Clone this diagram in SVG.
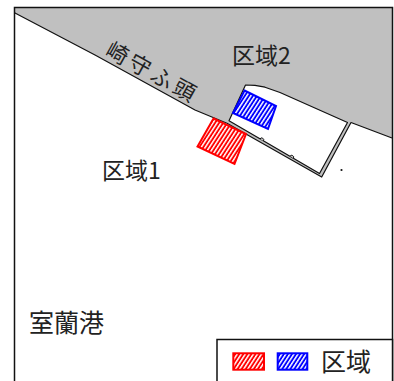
<svg xmlns="http://www.w3.org/2000/svg" width="394" height="381" viewBox="0 0 394 381">
<style>
.lbl{font-family:"Noto Sans CJK JP","Noto Sans",sans-serif;fill:#222;}
.line{fill:none;stroke:#111;stroke-width:1.2;stroke-linejoin:round;}
.red{fill:url(#hr);stroke:#ff0000;stroke-width:2;}
.blue{fill:url(#hb);stroke:#0000ff;stroke-width:2;}
</style>
<defs>
<pattern id="hr" patternUnits="userSpaceOnUse" width="3.4" height="3.4" patternTransform="rotate(33)">
<rect width="3.4" height="3.4" fill="#ff0000"/>
<rect x="0" y="0" width="1.5" height="3.4" fill="#ffffff"/>
</pattern>
<pattern id="hb" patternUnits="userSpaceOnUse" width="3.4" height="3.4" patternTransform="rotate(33)">
<rect width="3.4" height="3.4" fill="#0000ff"/>
<rect x="0" y="0" width="1.5" height="3.4" fill="#ffffff"/>
</pattern>
</defs>
<rect x="0" y="0" width="394" height="381" fill="#ffffff"/>
<g id="land">
<polygon points="14.5,12.7 95,55 195,110 227,123 321.7,177 351,122.5 392,138 392,7.5 14.5,7.5" fill="#c0c0c0"/>
</g>
<g id="pier">
<path d="M245.5,85 L255,85.4 L265,87.2 L280,92.5 L347.5,122.5 L319.5,173.5 L229,120.8 Z" fill="#ffffff" stroke="#111" stroke-width="1.2" stroke-linejoin="round"/>
<path d="M260,138.9 a1.9,1.9 0 0 1 3.4,2 M290,156.3 a1.9,1.9 0 0 1 3.4,2" fill="#c0c0c0" stroke="#111" stroke-width="1"/>
<circle cx="341.5" cy="170" r="1.1" fill="#111"/>
</g>
<g id="connectors">
<polyline class="line" points="14.5,12.7 95,55 195,110 227,123.3 321.7,177 351,122.5 392,138"/>
</g>
<g id="area1-box">
<polygon class="red" points="213.5,118.5 246,134 234.5,164 197.5,146.5"/>
</g>
<g id="area2-box">
<polygon class="blue" points="244.5,90.5 276,106 268,129 233,113"/>
</g>
<g id="labels">
<text class="lbl" x="104" y="54.7" font-size="22" letter-spacing="3.5" transform="rotate(29 104 54.7)">崎守ふ頭</text>
<text class="lbl" x="232" y="63.5" font-size="23">区域2</text>
<text class="lbl" x="102" y="179" font-size="23">区域1</text>
<text class="lbl" x="29" y="332" font-size="25">室蘭港</text>
</g>
<g id="frame">
<rect x="14.5" y="7.5" width="378" height="390" fill="none" stroke="#111" stroke-width="1.5"/>
</g>
<g id="legend">
<rect x="217" y="339.5" width="175.5" height="60" fill="#ffffff" stroke="#111" stroke-width="1.5"/>
<rect class="red" x="233.3" y="353.3" width="30.7" height="16.4"/>
<rect class="blue" x="277.7" y="353.3" width="29.6" height="16.4"/>
<text class="lbl" x="321" y="371" font-size="25">区域</text>
</g>
</svg>
